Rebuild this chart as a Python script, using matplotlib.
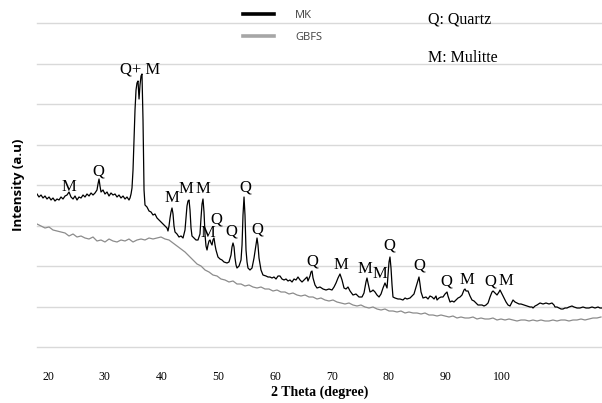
import matplotlib
matplotlib.use("Agg")
import matplotlib.pyplot as plt
from matplotlib.lines import Line2D
from matplotlib.ticker import MultipleLocator

# ---------------- data (2-theta in degrees, intensity in a.u.) ----------------
mk_2theta = [
    18.06, 18.41, 18.77, 19.12, 19.47, 19.82, 20.18, 20.53, 20.88, 21.23, 21.59, 21.94,
    22.29, 22.64, 23.00, 23.35, 23.70, 24.05, 24.41, 24.76, 25.11, 25.46, 25.82, 26.17,
    26.52, 26.87, 27.23, 27.58, 27.93, 28.28, 28.63, 28.81, 28.99, 29.16, 29.34, 29.69,
    30.04, 30.40, 30.75, 31.10, 31.45, 31.81, 32.16, 32.51, 32.86, 33.22, 33.57, 33.92,
    34.27, 34.45, 34.63, 34.80, 34.98, 35.15, 35.33, 35.51, 35.68, 35.86, 36.04, 36.21,
    36.39, 36.56, 36.74, 36.92, 37.09, 37.44, 37.80, 38.15, 38.50, 38.85, 39.21, 39.56,
    39.91, 40.26, 40.62, 40.97, 41.14, 41.32, 41.50, 41.67, 41.85, 42.03, 42.20, 42.38,
    42.73, 43.08, 43.44, 43.79, 44.14, 44.32, 44.49, 44.67, 44.85, 45.02, 45.20, 45.37,
    45.73, 46.08, 46.43, 46.78, 46.96, 47.14, 47.31, 47.49, 47.67, 47.84, 48.02, 48.19,
    48.37, 48.55, 48.72, 48.90, 49.07, 49.25, 49.43, 49.60, 49.95, 50.31, 50.66, 51.01,
    51.54, 51.89, 52.25, 52.42, 52.60, 52.78, 52.95, 53.13, 53.30, 53.66, 54.01, 54.19,
    54.36, 54.54, 54.71, 54.89, 55.07, 55.24, 55.59, 55.95, 56.30, 56.65, 56.83, 57.00,
    57.18, 57.53, 57.88, 58.41, 58.77, 59.12, 59.47, 59.82, 60.18, 60.53, 60.88, 61.23,
    61.59, 61.94, 62.29, 62.64, 63.00, 63.35, 63.70, 64.05, 64.41, 64.76, 65.11, 65.46,
    65.64, 65.81, 66.17, 66.34, 66.52, 66.70, 67.05, 67.40, 67.93, 68.46, 68.99, 69.51,
    70.04, 70.40, 70.75, 71.10, 71.45, 71.81, 72.16, 72.51, 72.86, 73.22, 73.74, 74.27,
    74.80, 75.33, 75.68, 76.03, 76.21, 76.39, 76.74, 77.09, 77.27, 77.62, 77.97, 78.33,
    78.68, 79.03, 79.38, 79.74, 79.91, 80.09, 80.26, 80.44, 80.62, 80.79, 81.14, 81.67,
    82.03, 82.55, 82.91, 83.26, 83.79, 84.14, 84.49, 84.85, 85.20, 85.37, 85.55, 85.73,
    86.08, 86.61, 86.96, 87.31, 87.67, 88.02, 88.37, 88.55, 88.90, 89.25, 89.60, 89.96,
    90.31, 90.48, 90.84, 91.19, 91.54, 91.89, 92.25, 92.60, 92.95, 93.30, 93.48, 93.66,
    94.01, 94.36, 94.71, 95.07, 95.42, 95.77, 96.13, 96.48, 96.83, 97.18, 97.54, 97.89,
    98.24, 98.42, 98.77, 99.12, 99.47, 99.65, 100.00, 100.35, 100.71, 101.06, 101.41, 101.76,
    101.94, 102.29, 102.65, 103.00, 103.35, 103.88, 104.41, 104.93, 105.29, 105.46, 105.82, 106.17,
    106.70, 107.23, 107.75, 108.28, 108.81, 109.16, 109.34, 109.69, 110.04, 110.40, 110.75, 111.10,
    111.45, 111.81, 112.33, 112.69, 113.22, 113.74, 114.27, 114.80, 115.33, 115.86, 116.39, 116.92,
    117.27, 117.62,
]
mk_intensity = [
    153, 150, 152, 149, 151, 148, 150, 147, 149, 146, 148, 147,
    150, 148, 151, 152, 155, 150, 148, 151, 147, 150, 149, 152,
    150, 153, 151, 154, 152, 154, 157, 163, 168, 161, 155, 157,
    153, 155, 151, 154, 152, 153, 150, 152, 149, 151, 148, 150,
    147, 149, 153, 159, 177, 207, 237, 257, 264, 266, 248, 262,
    271, 273, 227, 157, 142, 140, 136, 135, 132, 133, 129, 127,
    125, 123, 121, 119, 116, 121, 129, 135, 139, 133, 121, 115,
    113, 110, 111, 109, 117, 129, 141, 146, 147, 137, 119, 111,
    109, 107, 107, 113, 129, 143, 148, 135, 112, 101, 97, 102,
    106, 107, 104, 102, 107, 109, 102, 97, 90, 88, 87, 85,
    84, 85, 92, 100, 104, 100, 89, 82, 79, 81, 87, 102,
    132, 150, 132, 97, 85, 79, 77, 79, 89, 102, 109, 102,
    89, 77, 72, 71, 70, 70, 69, 70, 68, 71, 71, 68,
    67, 68, 66, 67, 65, 68, 67, 70, 67, 65, 67, 69,
    70, 66, 71, 75, 76, 69, 62, 59, 60, 58, 57, 58,
    57, 60, 64, 69, 73, 67, 59, 58, 60, 56, 52, 53,
    50, 50, 54, 65, 69, 64, 55, 56, 57, 55, 52, 50,
    53, 59, 64, 59, 72, 85, 90, 79, 62, 50, 49, 48,
    48, 47, 49, 48, 49, 51, 53, 60, 67, 70, 63, 55,
    49, 50, 48, 51, 50, 48, 51, 47, 49, 50, 50, 53,
    55, 51, 45, 46, 45, 47, 49, 50, 52, 57, 58, 56,
    56, 51, 47, 46, 44, 42, 42, 42, 41, 42, 44, 50,
    55, 56, 54, 52, 55, 57, 53, 49, 45, 42, 41, 45,
    47, 45, 44, 43, 43, 42, 41, 40, 40, 39, 41, 42,
    44, 43, 44, 43, 44, 42, 40, 40, 39, 38, 38, 39,
    39, 40, 41, 40, 39, 39, 40, 39, 39, 40, 39, 40,
    39, 39,
]

gbfs_2theta = [
    18.06, 18.77, 19.47, 20.18, 20.88, 21.59, 22.29, 23.00, 23.70, 24.41, 25.11, 25.82,
    26.52, 27.22, 27.93, 28.63, 29.34, 30.04, 30.75, 31.45, 32.16, 32.86, 33.57, 34.27,
    34.98, 35.68, 36.39, 37.09, 37.80, 38.50, 39.21, 39.91, 40.62, 41.32, 42.03, 42.73,
    43.44, 44.14, 44.85, 45.55, 46.26, 46.96, 47.67, 48.37, 49.07, 49.78, 50.48, 51.19,
    51.89, 52.60, 53.30, 54.01, 54.71, 55.42, 56.12, 56.83, 57.53, 58.24, 58.94, 59.65,
    60.35, 61.06, 61.76, 62.47, 63.17, 63.88, 64.58, 65.29, 65.99, 66.69, 67.40, 68.10,
    68.81, 69.51, 70.22, 70.92, 71.63, 72.33, 73.04, 73.74, 74.45, 75.15, 75.86, 76.56,
    77.27, 77.97, 78.68, 79.38, 80.09, 80.79, 81.50, 82.20, 82.91, 83.61, 84.32, 85.02,
    85.73, 86.43, 87.14, 87.84, 88.55, 89.25, 89.96, 90.66, 91.36, 92.07, 92.77, 93.48,
    94.18, 94.89, 95.59, 96.30, 97.00, 97.71, 98.41, 99.12, 99.82, 100.53, 101.23, 101.94,
    102.64, 103.35, 104.05, 104.76, 105.46, 106.17, 106.87, 107.58, 108.28, 108.98, 109.69, 110.39,
    111.10, 111.80, 112.51, 113.21, 113.92, 114.62, 115.33, 116.03, 116.74, 117.44,
]
gbfs_intensity = [
    123, 121, 119, 120, 117, 116, 115, 114, 111, 113, 110, 111,
    109, 108, 110, 106, 107, 105, 108, 106, 105, 107, 106, 108,
    105, 107, 108, 107, 109, 108, 109, 110, 108, 107, 104, 101,
    98, 95, 91, 87, 83, 81, 77, 75, 72, 71, 68, 67,
    65, 66, 63, 63, 61, 62, 60, 59, 60, 58, 58, 56,
    57, 55, 55, 53, 54, 52, 51, 52, 50, 50, 48, 49,
    47, 46, 47, 45, 44, 43, 44, 42, 41, 42, 40, 39,
    40, 38, 37, 38, 36, 36, 35, 36, 34, 35, 34, 34,
    33, 34, 32, 32, 31, 32, 31, 30, 31, 29, 30, 29,
    29, 30, 28, 29, 28, 28, 29, 27, 28, 27, 28, 27,
    26, 27, 27, 26, 27, 26, 27, 26, 26, 27, 26, 27,
    27, 26, 27, 27, 28, 27, 28, 29, 29, 30,
]

series_names = ["MK", "GBFS"]
x_ticks = [20, 30, 40, 50, 60, 70, 80, 90, 100]

ann_labels = ["M", "Q", "Q+ M", "M", "M", "M", "Q", "M", "Q", "Q", "Q",
              "Q", "M", "M", "M", "Q", "Q", "Q", "M", "Q", "M"]
ann_2theta = [23.70, 28.81, 36.21, 41.85, 44.32, 47.31, 49.60, 48.19, 52.25, 54.71, 56.83,
              66.52, 71.63, 75.86, 78.50, 80.09, 85.37, 90.13, 93.83, 97.89, 100.71]
ann_intensity = [160, 176, 277, 149, 158, 158, 127, 114, 115, 160, 117,
                 85, 82, 78, 73, 101, 81, 66, 67, 66, 66]

key_texts = ["Q: Quartz", "M: Mulitte"]

# ---------------- figure ----------------
W, H = 602, 403
fig = plt.figure(figsize=(W / 100, H / 100), dpi=100)
ax = fig.add_axes([37 / W, 1 - 347 / H, (W - 37) / W, (347 - 23) / H])

mk_color = "#000000"
gbfs_color = "#8c8c8c"

ax.plot(gbfs_2theta, gbfs_intensity, color=gbfs_color, lw=0.9, zorder=3)
ax.plot(mk_2theta, mk_intensity, color=mk_color, lw=0.9, zorder=4)

ax.set_xlim(18.06, 117.62)
ax.set_ylim(0, 324)
ax.yaxis.set_major_locator(MultipleLocator(40.5))
ax.set_yticklabels([])
ax.tick_params(axis="y", length=0)
ax.grid(axis="y", color="#d9d9d9", lw=1.0, zorder=0)
ax.set_axisbelow(True)
for gl in ax.get_ygridlines():
    gl.set_clip_on(False)
for s in ax.spines.values():
    s.set_visible(False)

ax.set_xticks(x_ticks)
ax.set_xticklabels([str(t) for t in x_ticks], family="Liberation Serif", fontsize=8.5)
ax.tick_params(axis="x", length=0, pad=17)
ax.set_xlabel("2 Theta (degree)", family="Liberation Serif", fontweight="bold",
              fontsize=10, labelpad=2)
ax.set_ylabel("Intensity (a.u)", family="Open Sans", fontweight="bold", fontsize=9.5,
              labelpad=5)

for lab, xv, yv in zip(ann_labels, ann_2theta, ann_intensity):
    ax.text(xv, yv, lab, ha="center", va="center", family="Liberation Serif",
            fontsize=12, zorder=5)

# legend
handles = [Line2D([], [], color=mk_color, lw=2.6),
           Line2D([], [], color="#a6a6a6", lw=2.6)]
leg = ax.legend(handles, series_names, loc="upper left",
                bbox_to_anchor=(243 / W, 1 - 10 / H), bbox_transform=fig.transFigure,
                frameon=False, borderpad=0, borderaxespad=0, handlelength=2.8,
                handletextpad=1.9, labelspacing=0.95,
                prop={"family": "Open Sans", "size": 8})
for t in leg.get_texts():
    t.set_color("#404040")

fig.text(428 / W, 1 - 20 / H, key_texts[0], ha="left", va="center",
         family="Liberation Serif", fontsize=11.5)
fig.text(428 / W, 1 - 58 / H, key_texts[1], ha="left", va="center",
         family="Liberation Serif", fontsize=11.5)

fig.savefig("out.png", dpi=100)
